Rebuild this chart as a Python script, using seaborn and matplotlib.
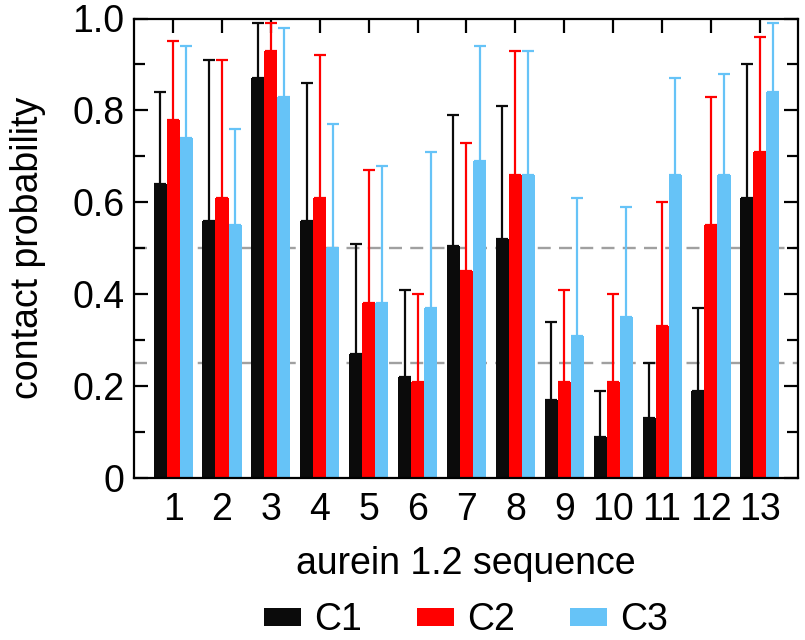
import numpy as np
import pandas as pd
import matplotlib
matplotlib.use("Agg")
import matplotlib.pyplot as plt
import seaborn as sns
from matplotlib.ticker import FixedLocator, MultipleLocator

# ---------------- data ----------------
residues = [str(i) for i in range(1, 14)]
series = ["C1", "C2", "C3"]
c1_mean = [0.64, 0.56, 0.87, 0.56, 0.27, 0.22, 0.505, 0.52, 0.17, 0.09, 0.13, 0.19, 0.61]
c1_upper = [0.84, 0.91, 0.99, 0.86, 0.51, 0.41, 0.79, 0.81, 0.34, 0.19, 0.25, 0.37, 0.90]
c2_mean = [0.78, 0.61, 0.93, 0.61, 0.38, 0.21, 0.45, 0.66, 0.21, 0.21, 0.33, 0.55, 0.71]
c2_upper = [0.95, 0.91, 0.99, 0.92, 0.67, 0.40, 0.73, 0.93, 0.41, 0.40, 0.60, 0.83, 0.96]
c3_mean = [0.74, 0.55, 0.83, 0.50, 0.38, 0.37, 0.69, 0.66, 0.31, 0.35, 0.66, 0.66, 0.84]
c3_upper = [0.94, 0.76, 0.98, 0.77, 0.68, 0.71, 0.94, 0.93, 0.61, 0.59, 0.87, 0.88, 0.99]
colors = ["#0b0b0b", "#ff0000", "#66c3f7"]
reference_lines = [0.25, 0.5]
yticks = [0.0, 0.2, 0.4, 0.6, 0.8, 1.0]
ytick_labels = ["0", "0.2", "0.4", "0.6", "0.8", "1.0"]
xlabel = "aurein 1.2 sequence"
ylabel = "contact probability"

means = [c1_mean, c2_mean, c3_mean]
uppers = [c1_upper, c2_upper, c3_upper]

df = pd.DataFrame({
    "residue": residues * 3,
    "series": [s for s in series for _ in residues],
    "value": c1_mean + c2_mean + c3_mean,
})

# ---------------- style ----------------
sns.set_theme(style="ticks")
plt.rcParams["font.family"] = ["Liberation Sans", "DejaVu Sans"]
plt.rcParams["text.color"] = "black"
plt.rcParams["axes.labelcolor"] = "black"
plt.rcParams["xtick.color"] = "black"
plt.rcParams["ytick.color"] = "black"
FS = 27

fig = plt.figure(figsize=(8.05, 6.40), dpi=100)
ax = fig.add_axes([134 / 805, 1 - 478 / 640, 664 / 805, 459.5 / 640])

sns.barplot(data=df, x="residue", y="value", hue="series", hue_order=series,
            order=residues, palette=colors, saturation=1, width=0.8,
            linewidth=0, errorbar=None, ax=ax, zorder=2)

handles, labels = ax.get_legend_handles_labels()
if ax.get_legend() is not None:
    ax.get_legend().remove()

# one-sided (upper) error bars
for cont, m, u, col in zip(ax.containers, means, uppers, colors):
    xs = [p.get_x() + p.get_width() / 2 for p in cont.patches]
    m = np.array(m)
    u = np.array(u)
    ax.errorbar(xs, m, yerr=[np.zeros_like(m), u - m], fmt="none",
                ecolor=col, elinewidth=1.6, capsize=4.3, capthick=1.6,
                zorder=3)

for y in reference_lines:
    ax.axhline(y, color="#a0a0a0", lw=1.7, dashes=(5.5, 3.5), zorder=0.5)

ax.set_xlim(-0.8, 12.78)
ax.set_ylim(0, 1.0)
ax.yaxis.set_major_locator(FixedLocator(yticks))
ax.set_yticklabels(ytick_labels)
ax.yaxis.set_minor_locator(MultipleLocator(0.1))

for s in ax.spines.values():
    s.set_visible(True)
    s.set_linewidth(1.6)
    s.set_color("black")

ax.tick_params(axis="y", which="major", direction="in", length=10, width=1.6,
               left=True, right=True, labelsize=FS, pad=7, colors="black")
ax.tick_params(axis="y", which="minor", direction="in", length=8, width=1.6,
               left=True, right=True)
ax.tick_params(axis="x", which="major", direction="in", length=10, width=1.6,
               top=True, bottom=False, labeltop=False, labelbottom=True,
               labelsize=FS, pad=10, colors="black")

ax.set_xlabel(xlabel, fontsize=FS, labelpad=13)
ax.set_ylabel(ylabel, fontsize=FS, labelpad=19)

fig.legend(handles, labels, loc="lower center", bbox_to_anchor=(466 / 805, 1.5 / 640),
           ncol=3, frameon=False, fontsize=FS, handlelength=1.0,
           handleheight=0.35, handletextpad=0.35, columnspacing=1.45,
           borderpad=0, borderaxespad=0)

fig.savefig("out.png", dpi=100)
